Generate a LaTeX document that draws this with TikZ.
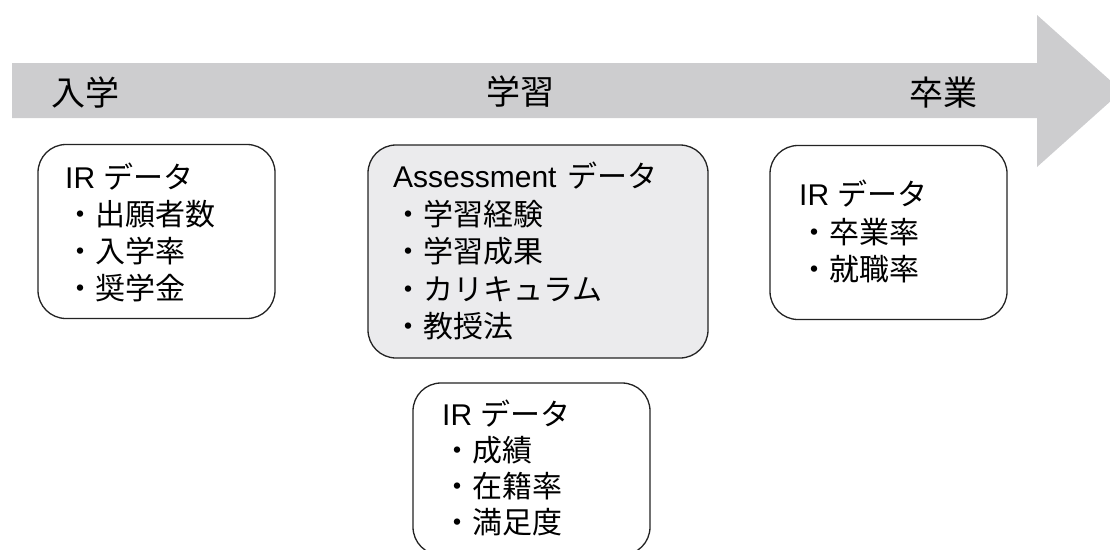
\documentclass[tikz,border=0pt]{standalone}
\usepackage{fontspec}
\setmainfont{Liberation Sans}
\newfontfamily\jp{Noto Sans CJK JP}
\definecolor{arrowgray}{RGB}{205,205,207}
\definecolor{boxgray}{RGB}{235,235,237}
\definecolor{lineblack}{RGB}{35,35,35}
\begin{document}
\begin{tikzpicture}[x=1pt,y=-1pt,
  box/.style={draw=lineblack, line width=1.3pt, rounded corners=28pt, inner sep=0pt},
  txt/.style={anchor=base west, inner sep=0pt, font=\fontsize{30}{36}\selectfont},
  lbl/.style={inner sep=0pt, font=\fontsize{34}{40}\selectfont\jp}]
\useasboundingbox (0,0) rectangle (1110,549);
\clip (0,0) rectangle (1110,549);
% big arrow
\fill[arrowgray] (12,63) -- (1037,63) -- (1037,15) -- (1122,91) -- (1037,167) -- (1037,118) -- (12,118) -- cycle;
\node[lbl] (l1) at (85,93) {入学};
\node[lbl] (l2) at (520,92) {学習};
\node[lbl] (l3) at (943,93) {卒業};
% boxes
\node[box, minimum width=237pt, minimum height=174pt] (b1) at (156.5,231.5) {};
\node[box, fill=boxgray, minimum width=340pt, minimum height=213pt] (b2) at (538,251.5) {};
\node[box, minimum width=237pt, minimum height=174pt] (b3) at (888.5,232.5) {};
\node[box, minimum width=237pt, minimum height=172pt] (b4) at (531.5,469) {};
% box 1 text
\node[txt] (b1a) at (65,188) {IR {\jp データ}};
\node[txt] (b1b) at (65,225) {\jp ・出願者数};
\node[txt] (b1c) at (65,262) {\jp ・入学率};
\node[txt] (b1d) at (65,299) {\jp ・奨学金};
% box 2 text
\node[txt] (b2a) at (393,187) {Assessment\hspace{3pt} {\jp データ}};
\node[txt] (b2b) at (393,225) {\jp ・学習経験};
\node[txt] (b2c) at (393,262) {\jp ・学習成果};
\node[txt] (b2d) at (393,300) {\jp ・カリキュラム};
\node[txt] (b2e) at (393,337) {\jp ・教授法};
% box 3 text
\node[txt] (b3a) at (799,205) {IR {\jp データ}};
\node[txt] (b3b) at (799,243) {\jp ・卒業率};
\node[txt] (b3c) at (799,280) {\jp ・就職率};
% box 4 text
\node[txt] (b4a) at (442,425) {IR {\jp データ}};
\node[txt] (b4b) at (442,461) {\jp ・成績};
\node[txt] (b4c) at (442,497) {\jp ・在籍率};
\node[txt] (b4d) at (442,533) {\jp ・満足度};
\end{tikzpicture}
\end{document}
